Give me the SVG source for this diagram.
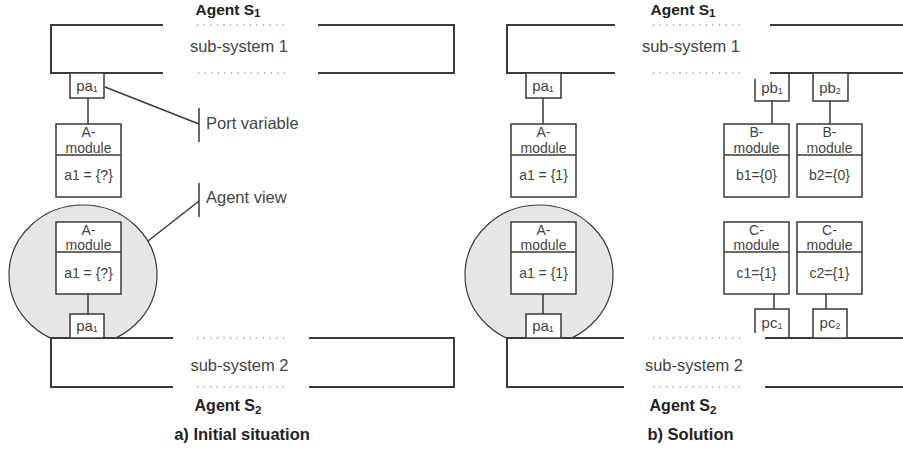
<svg xmlns="http://www.w3.org/2000/svg" width="903" height="450" viewBox="0 0 903 450">
<style>
.ln{fill:none;stroke:#3a3a3a;stroke-width:1.5}
.ss{fill:none;stroke:#3a3a3a;stroke-width:2}
.dots{fill:none;stroke:#666;stroke-width:1.2;stroke-dasharray:1.2 5.4}
.box{fill:#fff;stroke:#3a3a3a;stroke-width:1.5}
.view{fill:#e6e6e6;stroke:#3a3a3a;stroke-width:1.2}
.cover{fill:#fff;stroke:none}
text{font-family:"Liberation Sans",Arial,sans-serif;fill:#444}
.ag{font-weight:bold;font-size:16px;fill:#222;text-anchor:middle}
.agt{font-weight:bold;font-size:15.5px;fill:#222;text-anchor:middle}
.cap{font-weight:bold;font-size:16.5px;fill:#222;text-anchor:middle}
.sys{font-size:16.5px;text-anchor:middle}
.lab{font-size:16.5px}
.mod{font-size:14px;text-anchor:middle}
.port{font-size:15px;text-anchor:middle}
.sub{font-size:9px}
.asub{font-size:11.5px}
</style>

<!-- Agent views (circles) -->
<g id="view-left"><ellipse class="view" cx="83" cy="275" rx="74" ry="70"/></g>
<g id="view-right"><ellipse class="view" cx="539" cy="275" rx="74" ry="70"/></g>

<!-- Sub-systems -->
<g id="ss1-left">
<text class="agt" x="228" y="14.5">Agent S<tspan class="asub" dy="2.5">1</tspan></text>
<path class="ss" d="M163,25 H51 V73 H163 M318,25 H454 V73 H318"/>
<path class="dots" d="M197,25 H284 M198,73 H285"/>
<text class="sys" x="239" y="52">sub-system 1</text>
</g>
<g id="ss1-right">
<text class="agt" x="683" y="14.5">Agent S<tspan class="asub" dy="2.5">1</tspan></text>
<path class="ss" d="M615,25 H507 V73 H615 M770,25 H903 M770,73 H903"/>
<path class="dots" d="M653,25 H740 M653,73 H740"/>
<text class="sys" x="691" y="52">sub-system 1</text>
</g>
<g id="ss2-left">
<rect class="cover" x="51" y="338" width="403" height="49"/>
<path class="ss" d="M173,338 H51 V387 H173 M309,338 H454 V387 H309"/>
<path class="dots" d="M197,338 H284 M197,387 H284"/>
<text class="sys" x="239.5" y="371">sub-system 2</text>
<text class="ag" x="228" y="411">Agent S<tspan class="asub" dy="3">2</tspan></text>
</g>
<g id="ss2-right">
<rect class="cover" x="507" y="338" width="396" height="49"/>
<path class="ss" d="M624,338 H507 V387 H624 M765,338 H903 M765,387 H903"/>
<path class="dots" d="M653,338 H740 M653,387 H740"/>
<text class="sys" x="694" y="371">sub-system 2</text>
<text class="ag" x="683" y="411">Agent S<tspan class="asub" dy="3">2</tspan></text>
</g>

<!-- Connectors -->
<g id="connectors">
<path class="ln" d="M88,98 V124 M88,294 V314 M543,98 V124 M543,294 V314 M772,101 V124 M830,101 V124 M774,294 V309 M826,294 V309"/>
<path class="ln" d="M105,87 L199,124 M199,108 V142"/>
<path class="ln" d="M148,241 L199,201 M199,183 V217"/>
</g>

<!-- Ports -->
<g id="pa1-top-left"><rect class="box" x="70" y="73" width="34" height="25"/><text class="port" x="87" y="91">pa<tspan class="sub" dy="1">1</tspan></text></g>
<g id="pa1-bottom-left"><rect class="box" x="70" y="314" width="34" height="24"/><text class="port" x="87" y="331">pa<tspan class="sub" dy="1">1</tspan></text></g>
<g id="pa1-top-right"><rect class="box" x="526" y="73" width="35" height="25"/><text class="port" x="543" y="91">pa<tspan class="sub" dy="1">1</tspan></text></g>
<g id="pa1-bottom-right"><rect class="box" x="526" y="314" width="35" height="24"/><text class="port" x="543" y="331">pa<tspan class="sub" dy="1">1</tspan></text></g>
<g id="pb1"><path class="ln" d="M755,79 V101 H789 V73"/><text class="port" x="772" y="93">pb<tspan class="sub" dy="1">1</tspan></text></g>
<g id="pb2"><rect class="box" x="813" y="73" width="35" height="28"/><text class="port" x="830" y="93">pb<tspan class="sub" dy="1">2</tspan></text></g>
<g id="pc1"><path class="ln" d="M755,333 V309 H789 V338"/><text class="port" x="772" y="328">pc<tspan class="sub" dy="1">1</tspan></text></g>
<g id="pc2"><rect class="box" x="813" y="309" width="34" height="29"/><text class="port" x="830" y="328">pc<tspan class="sub" dy="1">2</tspan></text></g>

<!-- Modules -->
<g id="a-module-top-left"><rect class="box" x="56" y="124" width="65" height="73"/><path class="ln" d="M56,155 H121"/><text class="mod" x="88.5" y="137">A-</text><text class="mod" x="88.5" y="153">module</text><text class="mod" x="88.5" y="180">a1 = {?}</text></g>
<g id="a-module-view-left"><rect class="box" x="56" y="222" width="65" height="72"/><path class="ln" d="M56,252 H121"/><text class="mod" x="88.5" y="235">A-</text><text class="mod" x="88.5" y="250">module</text><text class="mod" x="88.5" y="278">a1 = {?}</text></g>
<g id="a-module-top-right"><rect class="box" x="511" y="124" width="65" height="73"/><path class="ln" d="M511,155 H576"/><text class="mod" x="543.5" y="137">A-</text><text class="mod" x="543.5" y="153">module</text><text class="mod" x="543.5" y="180">a1 = {1}</text></g>
<g id="a-module-view-right"><rect class="box" x="511" y="222" width="65" height="72"/><path class="ln" d="M511,252 H576"/><text class="mod" x="543.5" y="235">A-</text><text class="mod" x="543.5" y="250">module</text><text class="mod" x="543.5" y="278">a1 = {1}</text></g>
<g id="b-module-1"><rect class="box" x="724" y="124" width="65" height="73"/><path class="ln" d="M724,155 H789"/><text class="mod" x="756.5" y="137">B-</text><text class="mod" x="756.5" y="153">module</text><text class="mod" x="756.5" y="180">b1={0}</text></g>
<g id="b-module-2"><rect class="box" x="797" y="124" width="65" height="73"/><path class="ln" d="M797,155 H862"/><text class="mod" x="829.5" y="137">B-</text><text class="mod" x="829.5" y="153">module</text><text class="mod" x="829.5" y="180">b2={0}</text></g>
<g id="c-module-1"><rect class="box" x="724" y="222" width="65" height="72"/><path class="ln" d="M724,252 H789"/><text class="mod" x="756.5" y="235">C-</text><text class="mod" x="756.5" y="250">module</text><text class="mod" x="756.5" y="278">c1={1}</text></g>
<g id="c-module-2"><rect class="box" x="797" y="222" width="65" height="72"/><path class="ln" d="M797,252 H862"/><text class="mod" x="829.5" y="235">C-</text><text class="mod" x="829.5" y="250">module</text><text class="mod" x="829.5" y="278">c2={1}</text></g>

<!-- Labels -->
<g id="label-port-variable"><text class="lab" x="206" y="129">Port variable</text></g>
<g id="label-agent-view"><text class="lab" x="206" y="203">Agent view</text></g>
<g id="captions">
<text class="cap" x="242" y="440">a) Initial situation</text>
<text class="cap" x="690.5" y="440">b) Solution</text>
</g>
</svg>
